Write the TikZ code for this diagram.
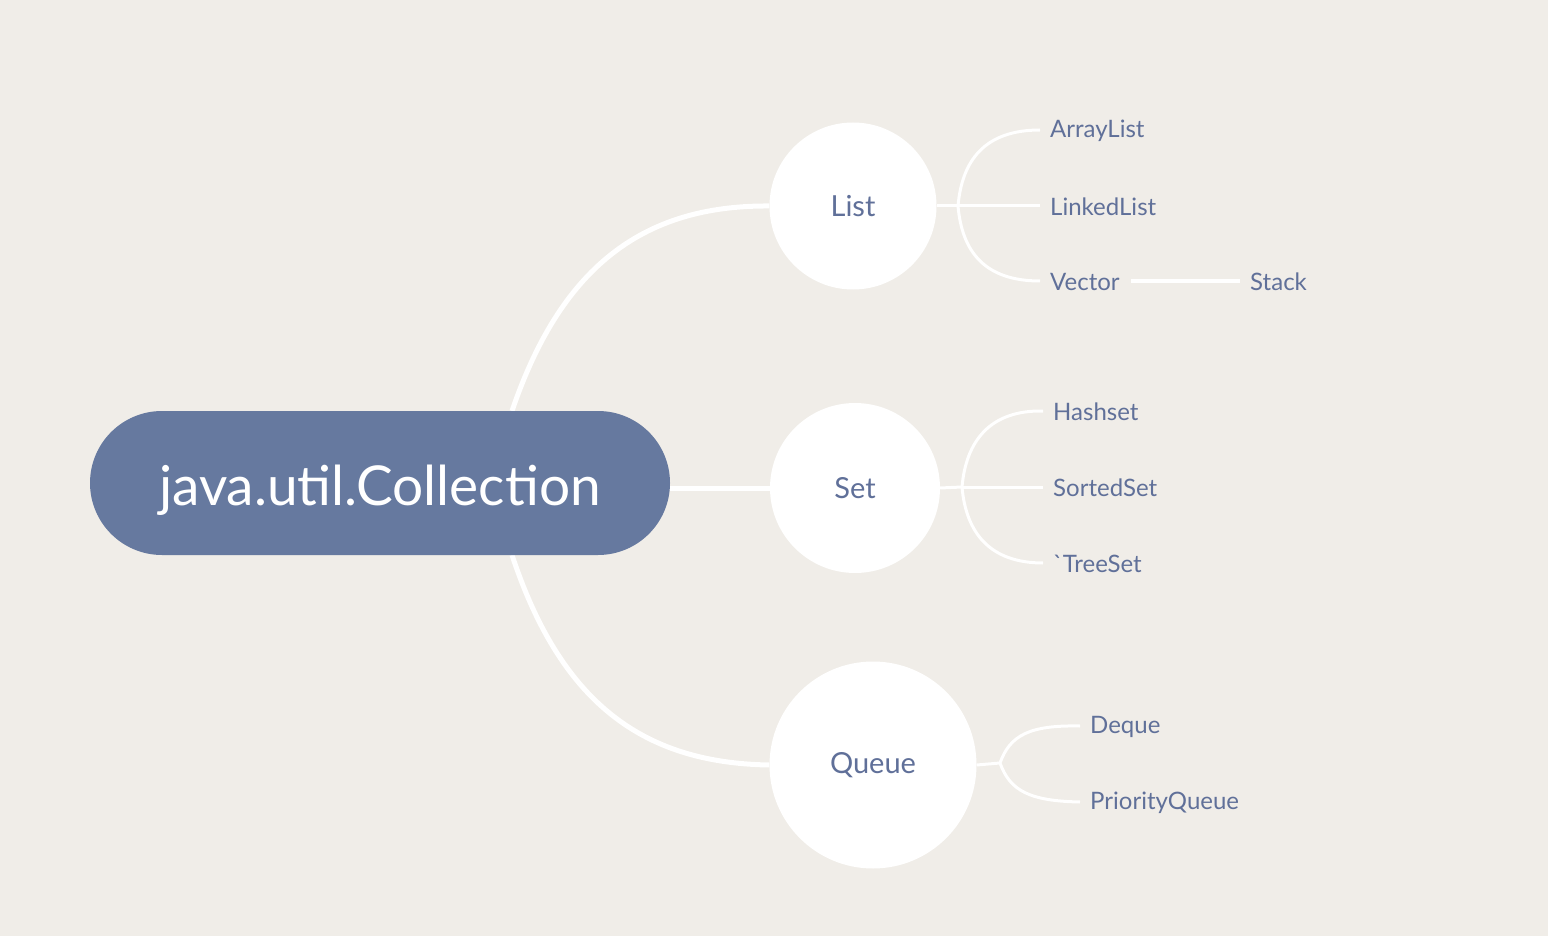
\documentclass[tikz,border=0pt]{standalone}
\usepackage{fontspec}
\setmainfont{Lato}
\definecolor{bgc}{RGB}{240,237,232}
\definecolor{rootc}{RGB}{102,121,159}
\definecolor{txtc}{RGB}{96,112,153}
\pgfdeclarelayer{bglayer}
\pgfdeclarelayer{edges}
\pgfsetlayers{bglayer,edges,main}
\tikzset{
  rootbox/.style={fill=rootc, rounded corners=72pt, minimum width=580pt, minimum height=144pt, inner sep=0pt, text=white, font=\fontsize{55}{62}\selectfont},
  circ/.style={circle, fill=white, inner sep=0pt, text=txtc},
  leaf/.style={anchor=west, inner sep=0pt, text=txtc, font=\fontsize{24}{28}\selectfont},
  bigedge/.style={draw=white, line width=5pt},
  smalledge/.style={draw=white, line width=3pt},
}
\begin{document}
\begin{tikzpicture}[x=1pt,y=-1pt]
\begin{pgfonlayer}{bglayer}
\fill[bgc] (0,0) rectangle (1548,936);
\end{pgfonlayer}
\useasboundingbox (0,0) rectangle (1548,936);

\node[rootbox] (root) at (380,483) {\raisebox{-7pt}[\height][\depth]{java.util.Collection}};
\node[circ, minimum size=167pt, font=\fontsize{29}{32}\selectfont] (list) at (853,206) {List};
\node[circ, minimum size=170pt, font=\fontsize{29}{32}\selectfont] (set) at (855,488) {Set};
\node[circ, minimum size=207pt, font=\fontsize{29}{32}\selectfont] (queue) at (873,765) {Queue};

\node[leaf] (arraylist) at (1050,131) {ArrayList};
\node[leaf] (linkedlist) at (1050,207) {LinkedList};
\node[leaf] (vector) at (1050,282) {Vector};
\node[leaf] (stack) at (1250,282) {Stack};
\node[leaf] (hashset) at (1053,412) {Hashset};
\node[leaf] (sortedset) at (1053,488) {SortedSet};
\node[leaf] (treeset) at (1053,564) {\textasciigrave TreeSet};
\node[leaf] (deque) at (1090,727) {Deque};
\node[leaf] (pqueue) at (1090,803) {PriorityQueue};

\coordinate (rtop) at (512,411);
\coordinate (rbot) at (512,555);
\coordinate (lb) at (958,206);
\coordinate (sb) at (962,487);
\coordinate (qb) at (1000,763);

\begin{pgfonlayer}{edges}
\draw[bigedge] (rtop) .. controls (560,270) and (640,205) .. (list.west);
\draw[bigedge] (root.east |- set.west) -- (set.west);
\draw[bigedge] (rbot) .. controls (560,700) and (640,763) .. (queue.west);

\draw[smalledge] (list.east) -- (lb);
\draw[smalledge] (lb) .. controls (962,160) and (985,130) .. ([xshift=-10pt,yshift=1pt]arraylist.west);
\draw[smalledge] (lb) -- ([xshift=-10pt]linkedlist.west |- lb);
\draw[smalledge] (lb) .. controls (962,252) and (985,281) .. ([xshift=-10pt,yshift=1pt]vector.west);
\draw[smalledge] ([xshift=11pt,yshift=1pt]vector.east) -- ([xshift=-10pt,yshift=1pt]stack.west);

\draw[smalledge] (set.east) -- (sb);
\draw[smalledge] (sb) .. controls (966,441) and (990,410) .. ([xshift=-10pt,yshift=1pt]hashset.west);
\draw[smalledge] (sb) -- ([xshift=-10pt]sortedset.west |- sb);
\draw[smalledge] (sb) .. controls (966,533) and (990,563) .. ([xshift=-10pt,yshift=1pt]treeset.west);

\draw[smalledge] (queue.east) -- (qb);
\draw[smalledge] (qb) .. controls (1010,735) and (1030,725) .. ([xshift=-10pt,yshift=1pt]deque.west);
\draw[smalledge] (qb) .. controls (1010,791) and (1030,801) .. ([xshift=-10pt,yshift=1pt]pqueue.west);
\end{pgfonlayer}
\end{tikzpicture}
\end{document}
